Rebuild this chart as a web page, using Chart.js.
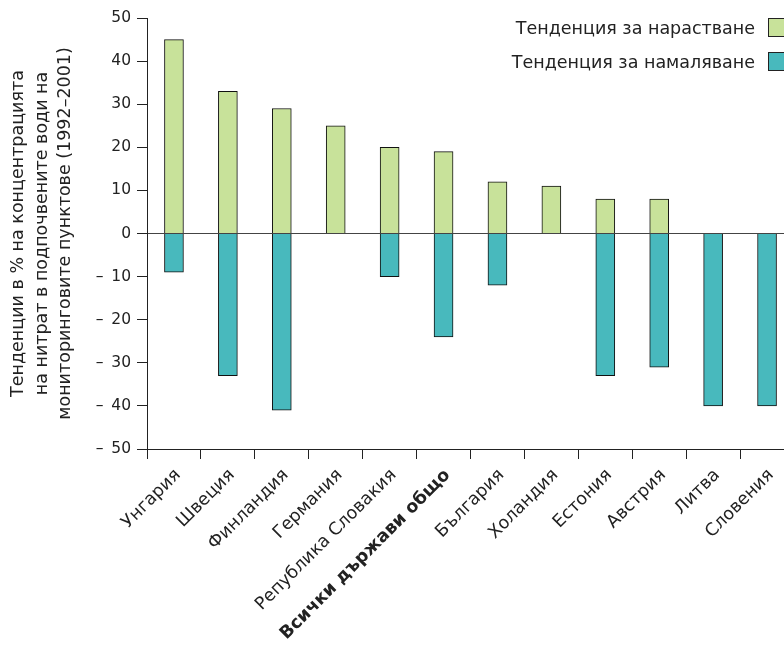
<!DOCTYPE html>
<html>
<head>
<meta charset="utf-8">
<script src="https://cdn.jsdelivr.net/npm/chart.js@4/dist/chart.umd.min.js"></script>
<style>
  body { margin: 0; overflow: hidden; background: #fff; font-family: "DejaVu Sans", Verdana, sans-serif; }
  #wrap { position: relative; width: 784px; height: 648px; overflow: hidden; }
  #legend { position: absolute; right: 0; top: 17px; }
  .item { position: absolute; white-space: nowrap; font-size: 17.5px; line-height: 22px; color: #222; }
  .item span.box { position: absolute; top: 1px; width: 18px; height: 19px; border: 1px solid #222; box-sizing: border-box; }
</style>
</head>
<body>
<div id="wrap">
  <canvas id="kk" width="796" height="648"></canvas>
  <div id="legend"></div>
</div>
<script>
const paises = ['Унгария', 'Швеция', 'Финландия', 'Германия', 'Република Словакия', 'Всички държави общо',
    'България', 'Холандия', 'Естония', 'Австрия', 'Литва', 'Словения'];
const nombres = ['Тенденция за нарастване', 'Тенденция за намаляване'];
const subida = [45, 33, 29, 25, 20, 19, 12, 11, 8, 8, 0, 0];
const bajada = [-9, -33, -41, 0, -10, -24, -12, 0, -33, -31, -40, -40];
const colores = ['rgb(200, 226, 154)', 'rgb(72, 185, 189)'];
const tituloY = ['Тенденции в % на концентрацията', 'на нитрат в подпочвените води на', 'мониторинговите пунктове (1992–2001)'];
const fuente = '"DejaVu Sans", Verdana, sans-serif';

document.addEventListener('DOMContentLoaded', () => {
    const ctx = document.getElementById('kk').getContext('2d');
    const grafico = new Chart(ctx, {
        type: 'bar',
        data: {
            labels: paises,
            datasets: [
                { label: nombres[0], data: subida, backgroundColor: colores[0], borderColor: '#111', borderWidth: 1, barThickness: 19 },
                { label: nombres[1], data: bajada, backgroundColor: colores[1], borderColor: '#111', borderWidth: 1, barThickness: 19 }
            ]
        },
        options: {
            responsive: false,
            animation: false,
            layout: { padding: { top: 18, right: 2, left: 0, bottom: 0 } },
            plugins: { legend: { display: false }, tooltip: { enabled: false } },
            scales: {
                x: {
                    stacked: true,
                    grid: { drawOnChartArea: false, tickLength: 10, color: '#222' },
                    border: { display: true, color: '#222' },
                    ticks: {
                        minRotation: 45,
                        maxRotation: 45,
                        autoSkip: false,
                        padding: 6,
                        labelOffset: 4,
                        color: '#222',
                        font: c => ({ family: fuente, size: 17.5, weight: c.index === 5 ? 'bold' : 'normal' })
                    },
                    afterFit: s => { s.height = 199; }
                },
                y: {
                    stacked: true,
                    min: -50, max: 50,
                    ticks: {
                        stepSize: 10,
                        color: '#222',
                        padding: 6,
                        font: { family: fuente, size: 15.5 },
                        callback: v => v < 0 ? '–\u2002' + Math.abs(v) : String(v)
                    },
                    grid: {
                        color: c => (c.tick && c.tick.value === 0) ? '#444' : 'rgba(0,0,0,0)',
                        tickColor: '#222',
                        tickLength: 10
                    },
                    border: { display: true, color: '#222' },
                    title: {
                        display: true,
                        text: tituloY,
                        color: '#222',
                        font: { family: fuente, size: 17.5, lineHeight: 1.34 },
                        padding: { top: 7, bottom: 0 }
                    },
                    afterFit: s => { s.width = 147; }
                }
            }
        }
    });

    const leyenda = document.getElementById('legend');
    nombres.forEach((n, i) => {
        const d = document.createElement('div');
        d.className = 'item';
        d.style.top = (i * 34) + 'px';
        d.style.right = '29px';
        d.innerHTML = n + '<span class="box" style="left: calc(100% + 13px); background:' + colores[i] + '"></span>';
        leyenda.appendChild(d);
    });
});
</script>
</body>
</html>
